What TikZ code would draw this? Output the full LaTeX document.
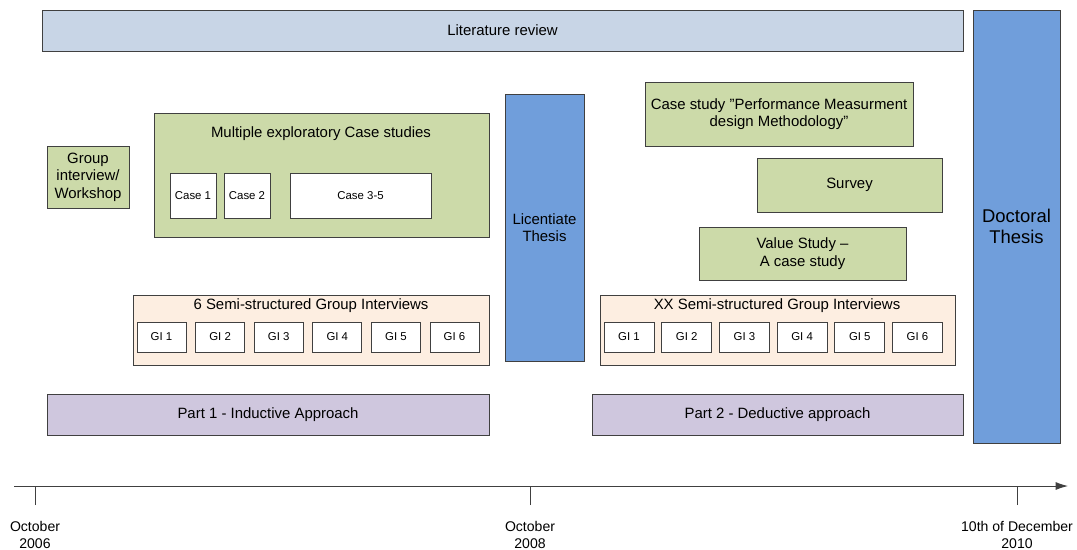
\documentclass[tikz,border=0pt]{standalone}
\usepackage{fontspec}
\setmainfont{Liberation Sans}
\usetikzlibrary{fit,arrows.meta}
\definecolor{litblue}{RGB}{200,213,230}
\definecolor{thesisblue}{RGB}{112,158,219}
\definecolor{casegreen}{RGB}{204,218,169}
\definecolor{gipeach}{RGB}{253,238,225}
\definecolor{partlilac}{RGB}{207,199,222}
\definecolor{edge}{RGB}{64,64,64}

\begin{document}
\begin{tikzpicture}[x=0.02cm, y=-0.02cm,
    box/.style={draw=edge, line width=0.5pt, inner sep=0pt},
    txt/.style={align=center, inner sep=0pt, font=\fontsize{8.5}{10}\selectfont},
    smalltxt/.style={txt, font=\fontsize{6.5}{8}\selectfont},
    date/.style={align=center, anchor=north, font=\fontsize{8}{9.5}\selectfont}]
\useasboundingbox (0,0) rectangle (1077,549);

% top row and theses
\node[box, fill=litblue, fit={(42,10) (963,51)}, label={[txt]center:Literature review}] (lit) {};
\node[box, fill=thesisblue, fit={(505,94) (584,361)}, label={[txt]center:Licentiate\\Thesis}] (lic) {};
\node[box, fill=thesisblue, fit={(973,10) (1060,443)},
      label={[txt, font=\fontsize{10.5}{12}\selectfont]center:Doctoral\\Thesis}] (doc) {};

% part 1
\node[box, fill=casegreen, fit={(47,146) (129,208)}, label={[txt]center:Group\\interview/\\Workshop}] (grp) {};
\node[box, fill=casegreen, fit={(154,113) (489,237)}] (mult) {};
\node[txt] (multt) at (321,134) {Multiple exploratory Case studies};
\node[box, fill=white, fit={(170,173) (216,218)}, label={[smalltxt]center:Case 1}] (c1) {};
\node[box, fill=white, fit={(224,173) (270,218)}, label={[smalltxt]center:Case 2}] (c2) {};
\node[box, fill=white, fit={(290,173) (431,218)}, label={[smalltxt]center:Case 3-5}] (c35) {};
\node[box, fill=gipeach, fit={(133,295) (489,365)}] (semil) {};
\node[txt] (semilt) at (311,306) {6 Semi-structured Group Interviews};
\foreach \i in {1,...,6}{
  \pgfmathsetmacro\xa{137+58.6*(\i-1)}
  \node[box, fill=white, fit={(\xa,322) (\xa+49,352)}, label={[smalltxt]center:GI \i}] (gl\i) {};
}
\node[box, fill=partlilac, fit={(47,394) (489,435)}, label={[txt]center:Part 1 - Inductive Approach}] (p1) {};

% part 2
\node[box, fill=casegreen, fit={(645,82) (913,146)},
      label={[txt]center:Case study ”Performance Measurment\\design Methodology”}] (pm) {};
\node[box, fill=casegreen, fit={(757,158) (942,212)}, label={[txt]center:Survey}] (surv) {};
\node[box, fill=casegreen, fit={(699,227) (906,280)}, label={[txt]center:Value Study –\\A case study}] (val) {};
\node[box, fill=gipeach, fit={(600,295) (955,365)}] (semir) {};
\node[txt] (semirt) at (777,306) {XX Semi-structured Group Interviews};
\foreach \i in {1,...,6}{
  \pgfmathsetmacro\xa{604+57.7*(\i-1)}
  \node[box, fill=white, fit={(\xa,322) (\xa+50,352)}, label={[smalltxt]center:GI \i}] (gr\i) {};
}
\node[box, fill=partlilac, fit={(592,394) (963,435)}, label={[txt]center:Part 2 - Deductive approach}] (p2) {};

% time line
\coordinate (a0) at (14,486);
\coordinate (a1) at (1068,486);
\draw[edge, line width=0.5pt, -{Latex[length=7pt,width=4.5pt]}] (a0) -- (a1);
\foreach \n/\x/\t in {k0/35/{October\\2006}, k1/530/{October\\2008}, k2/1017/{10th of December\\2010}}{
  \coordinate (\n) at (\x,505);
  \draw[edge, line width=0.5pt] (\n) -- (\n |- a0);
  \node[date] (\n l) at (\x,515) {\t};
}
\end{tikzpicture}
\end{document}
